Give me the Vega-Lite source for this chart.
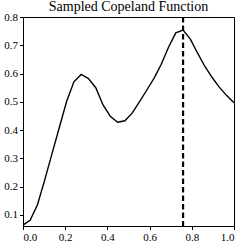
{
  "$schema": "https://vega.github.io/schema/vega-lite/v6.json",
  "width": 211,
  "height": 209,
  "autosize": {"type": "none"},
  "padding": {"left": 23, "top": 17, "right": 11, "bottom": 17},
  "background": "white",
  "title": {"text": "Sampled Copeland Function", "font": "Liberation Serif", "fontSize": 14, "fontWeight": "normal", "color": "black", "offset": -3, "anchor": "middle"},
  "config": {
    "view": {"stroke": "black", "strokeWidth": 1},
    "axis": {"domainColor": "black", "tickColor": "black", "labelColor": "black", "labelFont": "Liberation Serif", "labelFontSize": 11, "tickSize": 3.5, "grid": false, "title": null, "labelPadding": 2}
  },
  "datasets": {
    "curve": [
      {"x": 0.0, "y": 0.064},
      {"x": 0.0345, "y": 0.082},
      {"x": 0.069, "y": 0.137},
      {"x": 0.1034, "y": 0.225},
      {"x": 0.1379, "y": 0.318},
      {"x": 0.1724, "y": 0.41},
      {"x": 0.2069, "y": 0.502},
      {"x": 0.2414, "y": 0.571},
      {"x": 0.2759, "y": 0.597},
      {"x": 0.3103, "y": 0.582},
      {"x": 0.3448, "y": 0.55},
      {"x": 0.3793, "y": 0.489},
      {"x": 0.4138, "y": 0.449},
      {"x": 0.4483, "y": 0.428},
      {"x": 0.4828, "y": 0.433},
      {"x": 0.5172, "y": 0.46},
      {"x": 0.5517, "y": 0.5},
      {"x": 0.5862, "y": 0.541},
      {"x": 0.6207, "y": 0.583},
      {"x": 0.6552, "y": 0.633},
      {"x": 0.6897, "y": 0.693},
      {"x": 0.7241, "y": 0.744},
      {"x": 0.7586, "y": 0.754},
      {"x": 0.7931, "y": 0.722},
      {"x": 0.8276, "y": 0.672},
      {"x": 0.8621, "y": 0.625},
      {"x": 0.8966, "y": 0.586},
      {"x": 0.931, "y": 0.551},
      {"x": 0.9655, "y": 0.522},
      {"x": 1.0, "y": 0.497}
    ],
    "best": [{"x": 0.7586}]
  },
  "layer": [
    {
      "data": {"name": "curve"},
      "mark": {"type": "line", "color": "black", "strokeWidth": 1.4, "clip": true},
      "encoding": {
        "x": {"field": "x", "type": "quantitative", "scale": {"domain": [0, 1], "nice": false}, "axis": {"values": [0, 0.2, 0.4, 0.6, 0.8, 1.0], "format": ".1f"}},
        "y": {"field": "y", "type": "quantitative", "scale": {"domain": [0.061, 0.8], "nice": false, "zero": false}, "axis": {"values": [0.1, 0.2, 0.3, 0.4, 0.5, 0.6, 0.7, 0.8], "format": ".1f"}}
      }
    },
    {
      "data": {"name": "best"},
      "mark": {"type": "rule", "color": "black", "strokeWidth": 2.2, "strokeDash": [5.5, 3]},
      "encoding": {
        "x": {"field": "x", "type": "quantitative"}
      }
    }
  ]
}
